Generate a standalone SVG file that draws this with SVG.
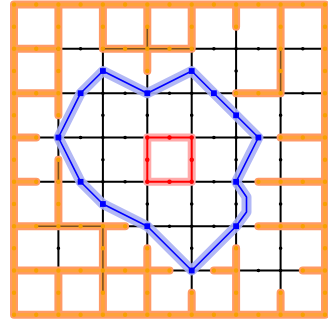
<svg xmlns="http://www.w3.org/2000/svg" width="328" height="320" viewBox="0 0 328 320">
<style>
.blk{stroke:#000;stroke-width:2;fill:none;stroke-linecap:butt}
.bdot{stroke:#000;stroke-width:3.6;stroke-linecap:round;fill:none}
.ohalo{stroke:#ff9a66;stroke-width:8;fill:none;stroke-linecap:round;stroke-linejoin:round}
.oline{stroke:#ffa33a;stroke-width:3.6;fill:none;stroke-linecap:round;stroke-linejoin:round}
.odot{stroke:#f7a000;stroke-width:4.4;stroke-linecap:round;fill:none}
.dark{stroke:#000;stroke-width:1.6;opacity:0.5;fill:none}
.rhalo{stroke:#ffaaaa;stroke-width:8;fill:none;stroke-linejoin:round}
.rline{stroke:#ff0000;stroke-width:2;fill:none}
.rdot{stroke:#ff0000;stroke-width:4.4;stroke-linecap:round;fill:none}
.bhalo{stroke:#aab0f4;stroke-width:10;fill:none;stroke-linejoin:round;stroke-linecap:round;opacity:0.9}
.bline{stroke:#0000ff;stroke-width:1.6;fill:none;stroke-linejoin:round}
.bsq{fill:#0000ff}
</style>
<rect width="328" height="320" fill="#fff"/>
<g id="connectors">
<g id="grid-edges">
<path class="blk" d="M58.4 48.8H102.9M191.7 48.8H325M58.4 93.2H236.1M280.6 93.2H325M36.2 137.5H280.6M36.2 181.8H258.4M125.1 226.2H258.4M169.5 270.5H213.9M236.1 270.5H302.8M58.4 115.3V159.7M58.4 226.2V270.5M102.9 48.8V226.2M147.3 71V248.3M191.7 48.8V292.7M236.1 26.7V248.3M280.6 93.2V292.7"/>
</g>
<g id="walls">
<path class="ohalo" d="M14 4.5H325V314.8H14Z M14 48.8H58.4M102.9 48.8H191.7M14 93.2H58.4M236.1 93.2H280.6M14 137.5H36.2M280.6 137.5H325M14 181.8H36.2M258.4 181.8H325M14 226.2H125.1M258.4 226.2H325M14 270.5H169.5M213.9 270.5H236.1M302.8 270.5H325M58.4 4.5V115.3M58.4 159.7V226.2M58.4 270.5V314.8M102.9 4.5V48.8M102.9 226.2V314.8M147.3 4.5V71M147.3 248.3V314.8M191.7 4.5V48.8M191.7 292.7V314.8M236.1 4.5V26.7M236.1 248.3V314.8M280.6 4.5V93.2M280.6 292.7V314.8"/>
<path class="oline" d="M14 4.5H325V314.8H14Z M14 48.8H58.4M102.9 48.8H191.7M14 93.2H58.4M236.1 93.2H280.6M14 137.5H36.2M280.6 137.5H325M14 181.8H36.2M258.4 181.8H325M14 226.2H125.1M258.4 226.2H325M14 270.5H169.5M213.9 270.5H236.1M302.8 270.5H325M58.4 4.5V115.3M58.4 159.7V226.2M58.4 270.5V314.8M102.9 4.5V48.8M102.9 226.2V314.8M147.3 4.5V71M147.3 248.3V314.8M191.7 4.5V48.8M191.7 292.7V314.8M236.1 4.5V26.7M236.1 248.3V314.8M280.6 4.5V93.2M280.6 292.7V314.8"/>
<path class="dark" d="M58.4 159.7V181.8M36.2 226.2H102.9M102.9 226.2V292.7M147.3 26.7V48.8M280.6 48.8V93.2M102.9 48.8H191.7"/>
</g>
<g id="region">
<path class="rhalo" d="M147.3 137.5H191.7V181.8H147.3Z"/>
<path class="rline" d="M147.3 137.5H191.7V181.8H147.3Z"/>
</g>
<g id="cycle">
<path class="bhalo" d="M102.9 71L147.3 93.2L191.7 71L213.9 93.2L236.1 115.3L258.4 137.5L236.1 181.8L246.5 197L246.5 212L236.1 226.2L191.7 270.5L147.3 226.2L102.9 204L80.6 181.8L58.4 137.5L80.6 93.2Z"/>
<path class="bline" d="M102.9 71L147.3 93.2L191.7 71L213.9 93.2L236.1 115.3L258.4 137.5L236.1 181.8L246.5 197L246.5 212L236.1 226.2L191.7 270.5L147.3 226.2L102.9 204L80.6 181.8L58.4 137.5L80.6 93.2Z"/>
</g>
</g>
<g id="grid-nodes">
<path class="bdot" d="M58.4 48.8h0M80.6 48.8h0M102.9 48.8h0M191.7 48.8h0M213.9 48.8h0M236.1 48.8h0M258.4 48.8h0M280.6 48.8h0M302.8 48.8h0M80.6 93.2h0M102.9 93.2h0M125.1 93.2h0M147.3 93.2h0M169.5 93.2h0M191.7 93.2h0M213.9 93.2h0M236.1 93.2h0M302.8 93.2h0M58.4 137.5h0M80.6 137.5h0M102.9 137.5h0M125.1 137.5h0M147.3 137.5h0M169.5 137.5h0M191.7 137.5h0M213.9 137.5h0M236.1 137.5h0M258.4 137.5h0M58.4 181.8h0M80.6 181.8h0M102.9 181.8h0M125.1 181.8h0M147.3 181.8h0M169.5 181.8h0M191.7 181.8h0M213.9 181.8h0M236.1 181.8h0M147.3 226.2h0M169.5 226.2h0M191.7 226.2h0M213.9 226.2h0M236.1 226.2h0M191.7 270.5h0M258.4 270.5h0M280.6 270.5h0M58.4 248.3h0M102.9 71h0M102.9 115.3h0M102.9 159.7h0M102.9 204h0M147.3 115.3h0M147.3 159.7h0M147.3 204h0M191.7 71h0M191.7 115.3h0M191.7 159.7h0M191.7 204h0M191.7 248.3h0M236.1 71h0M236.1 115.3h0M236.1 159.7h0M236.1 204h0M280.6 115.3h0M280.6 159.7h0M280.6 204h0M280.6 248.3h0"/>
</g>
<g id="wall-nodes">
<path class="odot" d="M14 4.5h0M36.2 4.5h0M58.4 4.5h0M80.6 4.5h0M102.9 4.5h0M125.1 4.5h0M147.3 4.5h0M169.5 4.5h0M191.7 4.5h0M213.9 4.5h0M236.1 4.5h0M258.4 4.5h0M280.6 4.5h0M302.8 4.5h0M325 4.5h0M14 314.8h0M36.2 314.8h0M58.4 314.8h0M80.6 314.8h0M102.9 314.8h0M125.1 314.8h0M147.3 314.8h0M169.5 314.8h0M191.7 314.8h0M213.9 314.8h0M236.1 314.8h0M258.4 314.8h0M280.6 314.8h0M302.8 314.8h0M325 314.8h0M14 26.7h0M14 48.8h0M14 71h0M14 93.2h0M14 115.3h0M14 137.5h0M14 159.7h0M14 181.8h0M14 204h0M14 226.2h0M14 248.3h0M14 270.5h0M14 292.7h0M325 26.7h0M325 48.8h0M325 71h0M325 93.2h0M325 115.3h0M325 137.5h0M325 159.7h0M325 181.8h0M325 204h0M325 226.2h0M325 248.3h0M325 270.5h0M325 292.7h0M36.2 48.8h0M58.4 48.8h0M102.9 48.8h0M125.1 48.8h0M147.3 48.8h0M169.5 48.8h0M191.7 48.8h0M36.2 93.2h0M58.4 93.2h0M236.1 93.2h0M258.4 93.2h0M280.6 93.2h0M36.2 137.5h0M280.6 137.5h0M302.8 137.5h0M36.2 181.8h0M258.4 181.8h0M280.6 181.8h0M302.8 181.8h0M36.2 226.2h0M58.4 226.2h0M80.6 226.2h0M102.9 226.2h0M125.1 226.2h0M258.4 226.2h0M280.6 226.2h0M302.8 226.2h0M36.2 270.5h0M58.4 270.5h0M80.6 270.5h0M102.9 270.5h0M125.1 270.5h0M147.3 270.5h0M169.5 270.5h0M213.9 270.5h0M236.1 270.5h0M302.8 270.5h0M58.4 26.7h0M58.4 71h0M58.4 115.3h0M58.4 159.7h0M58.4 181.8h0M58.4 204h0M58.4 292.7h0M102.9 26.7h0M102.9 248.3h0M102.9 292.7h0M147.3 26.7h0M147.3 71h0M147.3 248.3h0M147.3 292.7h0M191.7 26.7h0M191.7 292.7h0M236.1 26.7h0M236.1 248.3h0M236.1 292.7h0M280.6 26.7h0M280.6 48.8h0M280.6 71h0M280.6 292.7h0"/>
</g>
<g id="region-nodes">
<path class="rdot" d="M147.3 137.5h0M169.5 137.5h0M191.7 137.5h0M191.7 159.7h0M191.7 181.8h0M169.5 181.8h0M147.3 181.8h0M147.3 159.7h0"/>
</g>
<g id="cycle-nodes">
<g id="c1"><rect class="bsq" x="100" y="68.1" width="5.8" height="5.8"/></g>
<g id="c2"><rect class="bsq" x="144.4" y="90.3" width="5.8" height="5.8"/></g>
<g id="c3"><rect class="bsq" x="188.8" y="68.1" width="5.8" height="5.8"/></g>
<g id="c4"><rect class="bsq" x="211" y="90.3" width="5.8" height="5.8"/></g>
<g id="c5"><rect class="bsq" x="233.2" y="112.4" width="5.8" height="5.8"/></g>
<g id="c6"><rect class="bsq" x="255.5" y="134.6" width="5.8" height="5.8"/></g>
<g id="c7"><rect class="bsq" x="233.2" y="178.9" width="5.8" height="5.8"/></g>
<g id="c8"><rect class="bsq" x="233.2" y="223.3" width="5.8" height="5.8"/></g>
<g id="c9"><rect class="bsq" x="188.8" y="267.6" width="5.8" height="5.8"/></g>
<g id="c10"><rect class="bsq" x="144.4" y="223.3" width="5.8" height="5.8"/></g>
<g id="c11"><rect class="bsq" x="100" y="201.1" width="5.8" height="5.8"/></g>
<g id="c12"><rect class="bsq" x="77.7" y="178.9" width="5.8" height="5.8"/></g>
<g id="c13"><rect class="bsq" x="55.5" y="134.6" width="5.8" height="5.8"/></g>
<g id="c14"><rect class="bsq" x="77.7" y="90.3" width="5.8" height="5.8"/></g>
</g>
</svg>
